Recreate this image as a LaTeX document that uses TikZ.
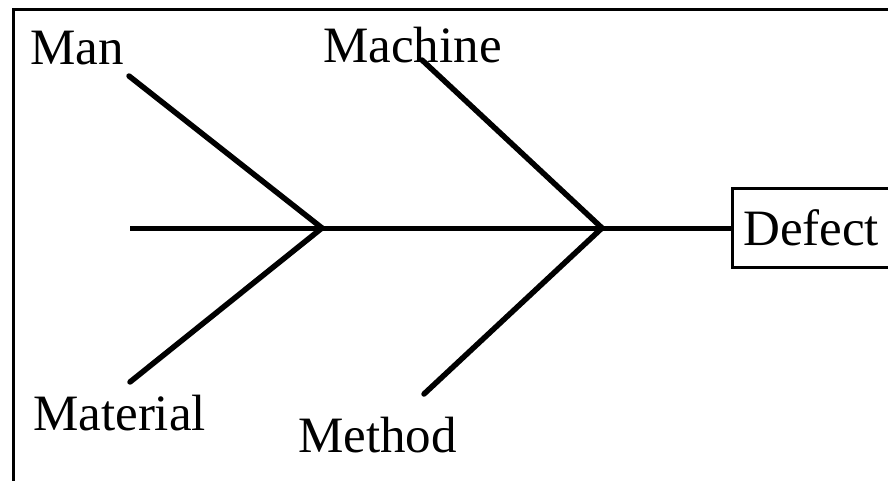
\documentclass[tikz,border=0pt]{standalone}
\usepackage{fontspec}
\setmainfont{Liberation Serif}
\usepackage{tikz}
\usetikzlibrary{calc}
\tikzset{
	frame/.style={black, line width=3pt},
	spine/.style={black, line width=5pt},
	bone/.style={black, line width=5.5pt, line cap=round},
	cause/.style={anchor=base west, inner sep=0pt, font=\fontsize{51}{60}\selectfont},
	effectbox/.style={draw, line width=2.5pt, anchor=west, minimum height=79pt,
		text width=178pt, inner xsep=11pt, align=left, font=\fontsize{51}{60}\selectfont},
}

\begin{document}
\begin{tikzpicture}[x=1pt,y=-1pt]
	
	\useasboundingbox (0,0) rectangle (888,480);
	\clip (0,0) rectangle (888,480);
	
	% Outer frame (runs off the page on the right and at the bottom)
	\draw[frame] (13,490) -- (13,9) -- (900,9);
	
	% Effect box
	\node[effectbox] (defect) at (731,228) {Defect};
	
	% Spine and joints
	\coordinate (tail) at (130,228);
	\coordinate (j1) at (322,228);
	\coordinate (j2) at (602,228);
	\draw[spine] (tail) -- (defect.west);
	
	% Bone ends
	\coordinate (manend) at (129,76);
	\coordinate (machineend) at (422,60);
	\coordinate (materialend) at (130,382);
	\coordinate (methodend) at (424,394);
	
	\draw[bone] (manend) -- (j1);
	\draw[bone] (materialend) -- (j1);
	\draw[bone] (machineend) -- (j2);
	\draw[bone] (methodend) -- (j2);
	
	% Cause labels
	\node[cause] (man) at (30,64) {Man};
	\node[cause] (machine) at (323,62) {Machine};
	\node[cause] (material) at (33,430) {Material};
	\node[cause] (method) at (298,452) {Method};
	
\end{tikzpicture}
\end{document}
